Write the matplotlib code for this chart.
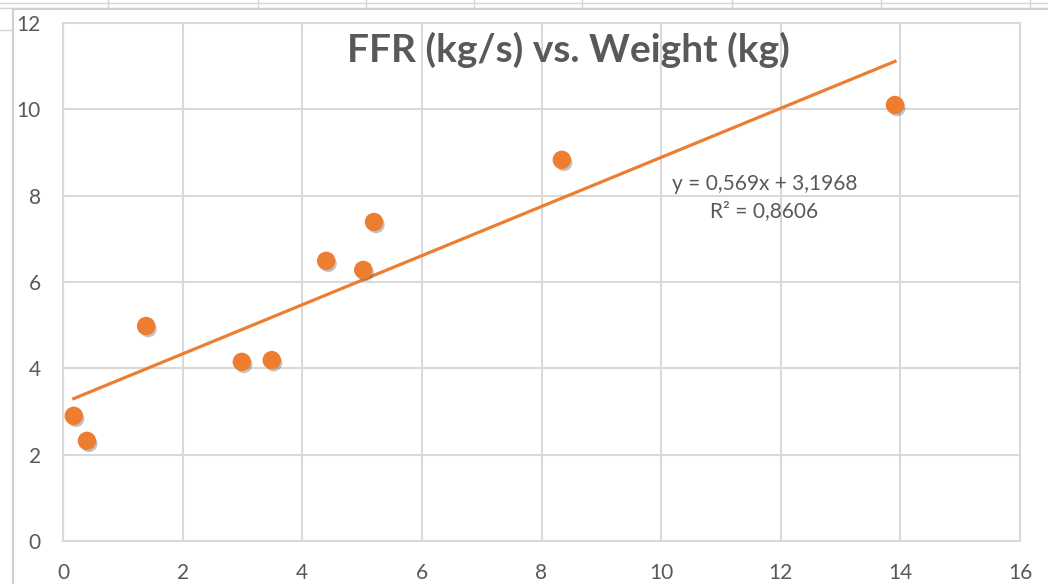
import numpy as np
import matplotlib
matplotlib.use("Agg")
import matplotlib.pyplot as plt
import matplotlib.patheffects as pe
from matplotlib.lines import Line2D

plt.rcParams['font.family'] = ['Lato', 'DejaVu Sans']

# data
weight = [0.18, 0.40, 1.39, 2.99, 3.49, 4.40, 5.02, 5.20, 8.34, 13.91]
ffr = [2.90, 2.32, 4.98, 4.15, 4.19, 6.49, 6.28, 7.39, 8.83, 10.10]
slope = 0.569
intercept = 3.1968
r2_text = "R² = 0,8606"
eq_text = "y = 0,569x + 3,1968"
title = "FFR (kg/s) vs. Weight (kg)"

orange = "#ED7D31"
grid_c = "#D9D9D9"
text_c = "#595959"

W, H = 1048, 584
fig = plt.figure(figsize=(W / 100, H / 100), dpi=100)

# spreadsheet cell lines behind the chart (figure pixels -> fraction)
def fline(x0, y0, x1, y1, c="#D4D4D4", lw=1.0):
    fig.add_artist(Line2D([x0 / W, x1 / W], [1 - y0 / H, 1 - y1 / H],
                         color=c, lw=lw, transform=fig.transFigure))

fline(0, 3, W, 3)
fline(0, 8, W, 8)
for xv in [108, 258, 366, 474, 582, 732, 881, 1030]:
    fline(xv, 0, xv, 8)
fline(0, 30, 13, 30)
# chart frame (left and top edges visible)
fline(13, 9, 13, H, c="#D0D0D0", lw=1.5)
fline(13, 9, W, 9, c="#D0D0D0", lw=1.5)

ax = fig.add_axes([63 / W, (H - 541) / H, 957 / W, 518 / H])
ax.set_xlim(0, 16)
ax.set_ylim(0, 12)
ax.set_xticks(range(0, 17, 2))
ax.set_yticks(range(0, 13, 2))
ax.grid(True, color=grid_c, lw=1.5)
ax.set_axisbelow(True)
for s in ax.spines.values():
    s.set_color(grid_c)
    s.set_linewidth(1.5)
ax.tick_params(length=0, labelsize=15, colors=text_c)
ax.tick_params(axis='y', pad=16)
ax.tick_params(axis='x', pad=16)

# trend line across the data range
xs = np.array([min(weight), max(weight)])
ax.plot(xs, slope * xs + intercept, color=orange, lw=2.3, zorder=3)

ax.scatter(weight, ffr, s=150, color=orange, zorder=4,
           path_effects=[pe.SimplePatchShadow(offset=(1.5, -2), alpha=0.35, shadow_rgbFace="#555555"),
                         pe.Normal()])

ax.text(0.528, 0.948, title, transform=ax.transAxes, ha='center', va='center',
        fontsize=28, fontweight='bold', color=text_c)
ax.text(0.733, 0.690, eq_text, transform=ax.transAxes, ha='center', va='center',
        fontsize=15, color=text_c)
ax.text(0.733, 0.636, r2_text, transform=ax.transAxes, ha='center', va='center',
        fontsize=15, color=text_c)

fig.savefig("out.png", dpi=100)
